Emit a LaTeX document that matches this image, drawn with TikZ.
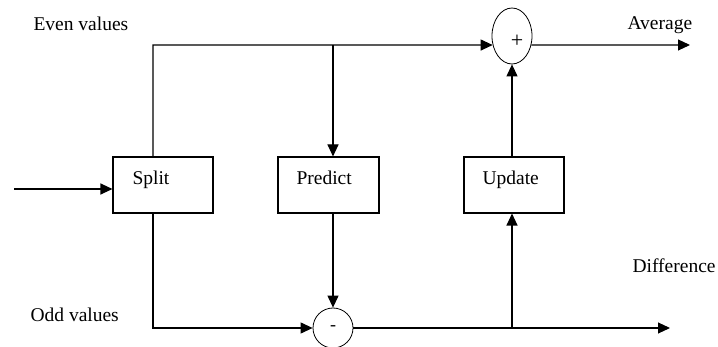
\documentclass[tikz,border=0pt]{standalone}
\usepackage{fontspec}
\setmainfont{Liberation Serif}
\usetikzlibrary{arrows.meta,shapes.geometric}
\begin{document}
\begin{tikzpicture}[x=1pt,y=-1pt,
  line width=1.1pt,
  arr/.style={-{Triangle[length=12pt,width=11pt]}},
  blockbox/.style={draw,rectangle,inner sep=0pt,minimum width=100pt,minimum height=56pt},
  txt/.style={anchor=base west,inner sep=0pt,font=\fontsize{19.5}{22}\selectfont},
  sumnode/.style={draw,ellipse,inner sep=0pt,line width=0.8pt}]
\useasboundingbox (0,0) rectangle (718,347);
% blocks
\node[blockbox] (split) at (163,185) {};
\node[blockbox,minimum width=101pt] (predict) at (328.5,185) {};
\node[blockbox] (update) at (514,185) {};
\node[sumnode,minimum width=40pt,minimum height=56pt] (plus) at (512,36) {};
\node[sumnode,minimum width=40pt,minimum height=40pt] (minus) at (333,328) {};
% texts
\node[txt] (tsplit) at (132,185) {Split};
\node[txt] (tpredict) at (296,185) {Predict};
\node[txt] (tupdate) at (482,185) {Update};
\node[txt] (teven) at (33,31) {Even values};
\node[txt] (tavg) at (627,30) {Average};
\node[txt] (tdiff) at (632,273) {Difference};
\node[txt] (todd) at (30,322) {Odd values};
\node[inner sep=0pt,font=\fontsize{22}{24}\selectfont] (tplus) at (517,41) {+};
\node[inner sep=0pt,font=\fontsize{18}{20}\selectfont] (tminus) at (333,328) {-};
% junctions
\coordinate (jsplit) at (153,45);
\coordinate (jpred) at (333,45);
\coordinate (jupd) at (512,328);
\coordinate (inStart) at (14,189);
\coordinate (avgEnd) at (690,45);
\coordinate (diffEnd) at (670,328);
% connectors
\draw[arr] (inStart) -- (inStart -| split.west);
\draw[arr] (jsplit |- split.north) -- (jsplit) -- (plus.205);
\draw[arr] (jpred) -- (jpred |- predict.north);
\draw[arr] (plus.335) -- (avgEnd);
\draw[arr] (predict.south -| jpred) -- (minus.north);
\draw[arr] (jsplit |- split.south) |- (minus.west);
\draw[arr] (minus.east) -- (diffEnd);
\draw[arr] (jupd) -- (jupd |- update.south);
\draw[arr] (jupd |- update.north) -- (plus.south);
\end{tikzpicture}
\end{document}
